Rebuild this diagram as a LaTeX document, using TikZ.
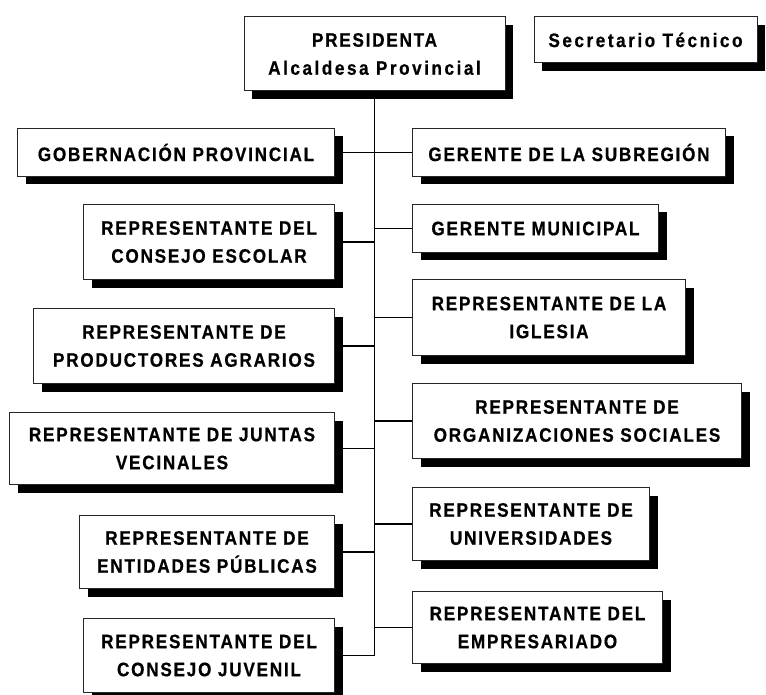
\documentclass[tikz,border=0pt]{standalone}
\usepackage{fontspec}
\newfontfamily\orgfont[FakeStretch=0.88,LetterSpace=9,BoldFeatures={FakeBold=0.6}]{Liberation Sans}
\newcommand{\lowtrack}{\addfontfeature{LetterSpace=13}}
\usetikzlibrary{positioning,shadows,backgrounds}

\tikzset{
  orgbox/.style={draw=black!85, line width=1pt, fill=white, align=center, inner sep=0pt,
    font=\orgfont\bfseries\fontsize{19.5}{28}\selectfont,
    drop shadow={shadow xshift=8pt, shadow yshift=-8pt, fill=black, opacity=1, draw=none}},
  link/.style={line width=1.5pt, black}
}

\begin{document}
\begin{tikzpicture}[x=1pt,y=-1pt]
  \useasboundingbox (0,0) rectangle (766,695);
  \node[orgbox, minimum width=261pt, minimum height=74pt] (pres) at (374.5,54) {PRESIDENTA\\\lowtrack Alcaldesa Provincial};
  \node[orgbox, minimum width=223pt, minimum height=46pt, below right=0pt and 28pt of pres.north east] (secr) {\lowtrack Secretario Técnico};
  % izquierda
  \node[orgbox, minimum width=317pt, minimum height=48pt, anchor=north east] (gob) at (335,128) {GOBERNACIÓN PROVINCIAL};
  \node[orgbox, minimum width=251pt, minimum height=75pt, below left=27pt and 0pt of gob.south east] (esc) {REPRESENTANTE DEL\\CONSEJO ESCOLAR};
  \node[orgbox, minimum width=301pt, minimum height=75pt, below left=28pt and 0pt of esc.south east] (agr) {REPRESENTANTE DE\\PRODUCTORES AGRARIOS};
  \node[orgbox, minimum width=325pt, minimum height=72pt, below left=28pt and 0pt of agr.south east] (jun) {REPRESENTANTE DE JUNTAS\\VECINALES};
  \node[orgbox, minimum width=255pt, minimum height=73pt, below left=30pt and 0pt of jun.south east] (ent) {REPRESENTANTE DE\\ENTIDADES PÚBLICAS};
  \node[orgbox, minimum width=251pt, minimum height=74pt, below left=29pt and 0pt of ent.south east] (juv) {REPRESENTANTE DEL\\CONSEJO JUVENIL};
  % derecha
  \node[orgbox, minimum width=313pt, minimum height=48pt, anchor=north west] (sub) at (412,128) {GERENTE DE LA SUBREGIÓN};
  \node[orgbox, minimum width=246pt, minimum height=48pt, below right=27pt and 0pt of sub.south west] (mun) {GERENTE MUNICIPAL};
  \node[orgbox, minimum width=273pt, minimum height=76pt, below right=26pt and 0pt of mun.south west] (igl) {REPRESENTANTE DE LA\\IGLESIA};
  \node[orgbox, minimum width=329pt, minimum height=75pt, below right=27pt and 0pt of igl.south west] (org) {REPRESENTANTE DE\\ORGANIZACIONES SOCIALES};
  \node[orgbox, minimum width=237pt, minimum height=73pt, below right=28pt and 0pt of org.south west] (uni) {REPRESENTANTE DE\\UNIVERSIDADES};
  \node[orgbox, minimum width=250pt, minimum height=72pt, below right=30pt and 0pt of uni.south west] (emp) {REPRESENTANTE DEL\\EMPRESARIADO};
  \begin{scope}[on background layer]
    \draw[link] (pres.south) -- (pres.south |- juv.west);
    \foreach \b in {gob,esc,agr,jun,ent,juv}
      \draw[link] (\b.east) -- (\b.east -| pres.south);
    \foreach \b in {sub,mun,igl,org,uni,emp}
      \draw[link] (\b.west) -- (\b.west -| pres.south);
  \end{scope}
\end{tikzpicture}
\end{document}
